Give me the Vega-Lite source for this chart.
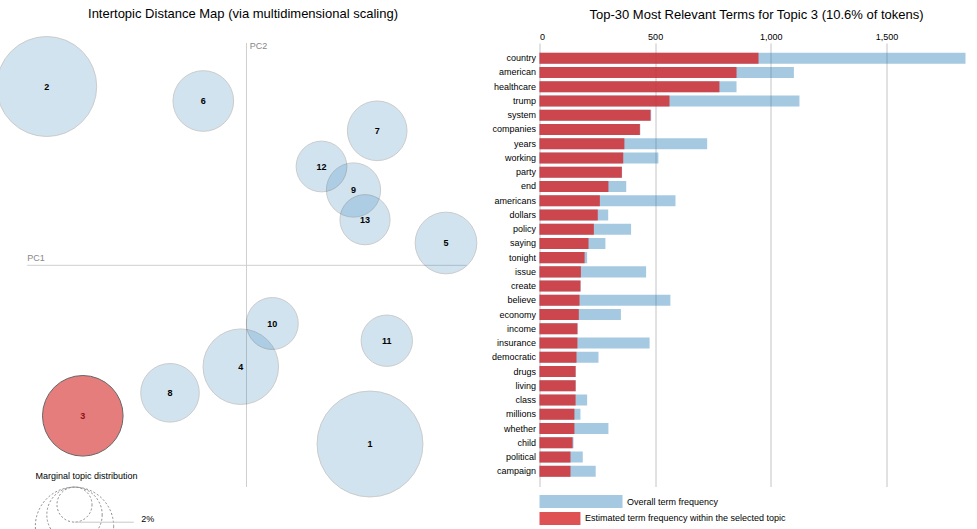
{
  "$schema": "https://vega.github.io/schema/vega-lite/v6.json",
  "background": "white",
  "padding": {"left": -5.5, "top": 8, "right": 0, "bottom": 0},
  "spacing": 10,
  "config": {
    "font": "Liberation Sans",
    "view": {"stroke": null},
    "title": {"fontSize": 13, "fontWeight": "normal", "color": "#000"},
    "axis": {"labelColor": "#000", "labelFontSize": 9}
  },
  "hconcat": [
    {
      "width": 480,
      "height": 487,
      "title": {"text": "Intertopic Distance Map (via multidimensional scaling)", "frame": "group", "anchor": "middle", "dx": 2.5, "offset": 13.3},
      "encoding": {
        "x": {"field": "x", "type": "quantitative", "scale": {"domain": [-0.246, 0.234], "nice": false, "zero": false}, "axis": null},
        "y": {"field": "y", "type": "quantitative", "scale": {"domain": [-0.2647, 0.2223], "nice": false, "zero": false}, "axis": null}
      },
      "layer": [
        {
          "data": {"values": [
            {"axis": "PC1", "x": -0.2193, "x2": 0.22, "y": 0, "y2": 0},
            {"axis": "PC2", "x": 0, "x2": 0, "y": 0.2223, "y2": -0.2217}
          ]},
          "mark": {"type": "rule", "color": "#cfcfcf", "strokeWidth": 1},
          "encoding": {"x2": {"field": "x2"}, "y2": {"field": "y2"}}
        },
        {
          "data": {"values": [
            {"label": "PC1", "x": -0.2193, "y": 0.0076},
            {"label": "PC2", "x": 0.0033, "y": 0.2193}
          ]},
          "mark": {"type": "text", "align": "left", "baseline": "middle", "fontSize": 9, "color": "#888"},
          "encoding": {"text": {"field": "label"}}
        },
        {
          "data": {"values": [
            {"topic": 1, "x": 0.1235, "y": -0.1787, "Freq": 18.3},
            {"topic": 2, "x": -0.1998, "y": 0.1788, "Freq": 16.3},
            {"topic": 3, "x": -0.1637, "y": -0.1505, "Freq": 10.6},
            {"topic": 4, "x": -0.0057, "y": -0.1014, "Freq": 9.3},
            {"topic": 5, "x": 0.1995, "y": 0.0223, "Freq": 6.2},
            {"topic": 6, "x": -0.0432, "y": 0.1643, "Freq": 6.0},
            {"topic": 7, "x": 0.1307, "y": 0.1345, "Freq": 5.8},
            {"topic": 8, "x": -0.0765, "y": -0.1275, "Freq": 5.6},
            {"topic": 9, "x": 0.107, "y": 0.0753, "Freq": 4.8},
            {"topic": 10, "x": 0.0258, "y": -0.0582, "Freq": 4.4},
            {"topic": 11, "x": 0.1403, "y": -0.0754, "Freq": 4.3},
            {"topic": 12, "x": 0.075, "y": 0.0988, "Freq": 4.2},
            {"topic": 13, "x": 0.1185, "y": 0.0456, "Freq": 4.1}
          ]},
          "layer": [
            {
              "mark": {"type": "point", "shape": "circle", "filled": true, "stroke": "#000", "strokeWidth": 1},
              "encoding": {
                "size": {"field": "Freq", "type": "quantitative", "scale": {"type": "linear", "domain": [0, 100], "range": [0, 61290]}, "legend": null},
                "color": {"condition": {"test": "datum.topic == 3", "value": "#d62728"}, "value": "#1f77b4"},
                "opacity": {"condition": {"test": "datum.topic == 3", "value": 0.6}, "value": 0.2}
              }
            },
            {
              "mark": {"type": "text", "align": "center", "baseline": "middle", "fontSize": 9, "fontWeight": "bold"},
              "encoding": {
                "text": {"field": "topic", "type": "nominal"},
                "color": {"condition": {"test": "datum.topic == 3", "value": "#8e1118"}, "value": "#000"}
              }
            }
          ]
        },
        {
          "data": {"values": [
            {"pct": "2%", "x": -0.172, "y": -0.2393, "Freq": 2},
            {"pct": "5%", "x": -0.172, "y": -0.2495, "Freq": 5},
            {"pct": "10%", "x": -0.172, "y": -0.261, "Freq": 10}
          ]},
          "mark": {"type": "point", "shape": "circle", "filled": false, "color": "#888", "strokeWidth": 1, "strokeDash": [2, 2], "opacity": 1},
          "encoding": {
            "size": {"field": "Freq", "type": "quantitative", "scale": {"type": "linear", "domain": [0, 100], "range": [0, 61290]}, "legend": null}
          }
        },
        {
          "data": {"values": [
            {"pct": "2%", "x": -0.172, "x2": -0.1127, "y": -0.2569}
          ]},
          "mark": {"type": "rule", "color": "#c8c8c8", "strokeWidth": 1},
          "encoding": {"x2": {"field": "x2"}}
        },
        {
          "data": {"values": [
            {"label": "Marginal topic distribution", "x": -0.211, "y": -0.2107},
            {"label": "2%", "x": -0.1053, "y": -0.254}
          ]},
          "mark": {"type": "text", "align": "left", "baseline": "middle", "fontSize": 9, "color": "#000"},
          "encoding": {"text": {"field": "label"}}
        }
      ]
    },
    {
      "bounds": "flush",
      "spacing": 8,
      "vconcat": [
        {
          "width": 426,
          "height": 443.5,
          "title": {"text": "Top-30 Most Relevant Terms for Topic 3 (10.6% of tokens)", "frame": "group", "anchor": "middle", "dx": 4, "offset": 10.5},
          "data": {"values": [
            {"Term": "country", "Freq": 947, "Total": 1842},
            {"Term": "american", "Freq": 852, "Total": 1100},
            {"Term": "healthcare", "Freq": 778, "Total": 852},
            {"Term": "trump", "Freq": 562, "Total": 1124},
            {"Term": "system", "Freq": 480, "Total": 483},
            {"Term": "companies", "Freq": 434, "Total": 436},
            {"Term": "years", "Freq": 367, "Total": 725},
            {"Term": "working", "Freq": 362, "Total": 514},
            {"Term": "party", "Freq": 356, "Total": 357},
            {"Term": "end", "Freq": 298, "Total": 375},
            {"Term": "americans", "Freq": 261, "Total": 588},
            {"Term": "dollars", "Freq": 252, "Total": 297},
            {"Term": "policy", "Freq": 235, "Total": 396},
            {"Term": "saying", "Freq": 212, "Total": 285},
            {"Term": "tonight", "Freq": 195, "Total": 206},
            {"Term": "issue", "Freq": 179, "Total": 461},
            {"Term": "create", "Freq": 177, "Total": 178},
            {"Term": "believe", "Freq": 173, "Total": 566},
            {"Term": "economy", "Freq": 170, "Total": 352},
            {"Term": "income", "Freq": 164, "Total": 165},
            {"Term": "insurance", "Freq": 164, "Total": 476},
            {"Term": "democratic", "Freq": 160, "Total": 255},
            {"Term": "drugs", "Freq": 156, "Total": 157},
            {"Term": "living", "Freq": 156, "Total": 157},
            {"Term": "class", "Freq": 156, "Total": 206},
            {"Term": "millions", "Freq": 151, "Total": 177},
            {"Term": "whether", "Freq": 151, "Total": 298},
            {"Term": "child", "Freq": 143, "Total": 147},
            {"Term": "political", "Freq": 134, "Total": 187},
            {"Term": "campaign", "Freq": 134, "Total": 243}
          ]},
          "encoding": {
            "y": {"field": "Term", "type": "nominal", "sort": null, "scale": {"paddingInner": 0.227, "paddingOuter": 0.68}, "axis": {"title": null, "ticks": false, "domain": false, "labelPadding": 4, "labelFontSize": 9}}
          },
          "layer": [
            {
              "mark": {"type": "bar", "color": "#1f77b4", "opacity": 0.4},
              "encoding": {
                "x": {"field": "Total", "type": "quantitative", "scale": {"domain": [0, 1842], "nice": false}, "axis": {"orient": "top", "title": null, "values": [0, 500, 1000, 1500], "format": ",.0f", "grid": true, "gridColor": "#c4c4c4", "ticks": false, "domain": false, "labelPadding": 2, "labelFontSize": 9}}
              }
            },
            {
              "mark": {"type": "bar", "color": "#d62728", "opacity": 0.8},
              "encoding": {"x": {"field": "Freq", "type": "quantitative"}}
            }
          ]
        },
        {
          "width": 426,
          "height": 30,
          "data": {"values": [
            {"label": "Overall term frequency", "kind": "overall", "value": 359},
            {"label": "Estimated term frequency within the selected topic", "kind": "topic", "value": 177}
          ]},
          "encoding": {
            "y": {"field": "label", "type": "nominal", "sort": null, "scale": {"paddingInner": 0.235, "paddingOuter": 0}, "axis": null},
            "x": {"field": "value", "type": "quantitative", "scale": {"domain": [0, 1842], "nice": false}, "axis": null}
          },
          "layer": [
            {
              "mark": {"type": "bar"},
              "encoding": {
                "color": {"field": "kind", "type": "nominal", "scale": {"domain": ["overall", "topic"], "range": ["#1f77b4", "#d62728"]}, "legend": null},
                "opacity": {"field": "kind", "type": "nominal", "scale": {"domain": ["overall", "topic"], "range": [0.4, 0.8]}, "legend": null}
              }
            },
            {
              "mark": {"type": "text", "align": "left", "baseline": "middle", "dx": 4.5, "fontSize": 9, "color": "#000"},
              "encoding": {"text": {"field": "label"}}
            }
          ]
        }
      ]
    }
  ]
}
